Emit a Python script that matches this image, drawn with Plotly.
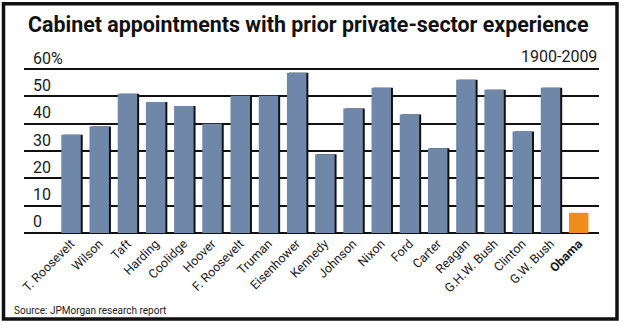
import plotly.graph_objects as go

presidents = ["T. Roosevelt", "Wilson", "Taft", "Harding", "Coolidge", "Hoover",
              "F. Roosevelt", "Truman", "Eisenhower", "Kennedy", "Johnson", "Nixon",
              "Ford", "Carter", "Reagan", "G.H.W. Bush", "Clinton", "G.W. Bush", "Obama"]
share_pct = [36, 39, 51, 48, 46.5, 40, 50.3, 50.3, 58.7, 28.8, 45.6, 53.2,
             43.4, 31, 56.1, 52.5, 37.2, 53.2, 7.4]
ytick_vals = [0, 10, 20, 30, 40, 50, 60]
ytick_text = ["0", "10", "20", "30", "40", "50", "60%"]

BLUE = "#6f88aa"
ORANGE = "#f18c1c"
FONT = "Roboto, Lato, sans-serif"

bar_colors = [ORANGE if p == "Obama" else BLUE for p in presidents]
shadow_colors = ["rgba(0,0,0,0)" if p == "Obama" else "#111111" for p in presidents]
tick_text = ["<b>%s</b>" % p if p == "Obama" else p for p in presidents]

fig = go.Figure()
fig.add_trace(go.Bar(x=presidents, y=share_pct, marker=dict(color=shadow_colors, line=dict(width=0)),
                     width=0.69, offset=-0.345 + 0.07, hoverinfo="skip", showlegend=False))
fig.add_trace(go.Bar(x=presidents, y=share_pct, marker=dict(color=bar_colors, line=dict(width=0)),
                     width=0.69, offset=-0.345, showlegend=False))

L, R, T, B = 24, 24, 60.8, 92
W, H = 623, 325
pw, ph = W - L - R, H - T - B

def px(x):
    return (x - L) / pw

def py(y):
    return (H - B - y) / ph

fig.update_layout(
    width=W, height=H, margin=dict(l=L, r=R, t=T, b=B, pad=0),
    paper_bgcolor="white", plot_bgcolor="white", barmode="overlay",
    font=dict(family=FONT, color="#1a1a1a"),
    xaxis=dict(type="category", range=[-1.667, 18.72], tickmode="array",
               tickvals=presidents, ticktext=tick_text, tickangle=-45,
               tickfont=dict(size=12.5, color="#1a1a1a"), showgrid=False, zeroline=False,
               showline=False, ticks=""),
    yaxis=dict(range=[0, 63], tickmode="array", tickvals=ytick_vals, ticktext=ytick_text,
               ticklabelposition="inside top", ticklabeloverflow="allow",
               ticklabelstandoff=6,
               tickfont=dict(size=16, color="#1a1a1a"),
               showgrid=True, gridcolor="#111111", gridwidth=1.6,
               zeroline=True, zerolinecolor="#111111", zerolinewidth=1.6,
               showline=False, ticks=""),
    shapes=[dict(type="rect", xref="paper", yref="paper",
                 x0=px(3.5), x1=px(617), y0=py(319), y1=py(3.5),
                 line=dict(color="#111111", width=3.5), fillcolor="rgba(0,0,0,0)")],
    annotations=[
        dict(text="<b>Cabinet appointments with prior private-sector experience</b>",
             xref="paper", yref="paper", x=px(26), y=py(24), xanchor="left", yanchor="middle",
             showarrow=False, font=dict(size=21.4, color="#111111")),
        dict(text="1900-2009", xref="paper", yref="paper", x=px(599), y=py(56.5),
             xanchor="right", yanchor="middle", showarrow=False,
             font=dict(size=16, color="#1a1a1a")),
        dict(text="Source: JPMorgan research report", xref="paper", yref="paper",
             x=px(12), y=py(311), xanchor="left", yanchor="middle", showarrow=False,
             font=dict(size=10, color="#1a1a1a")),
    ],
)

fig.write_html("out.html")
